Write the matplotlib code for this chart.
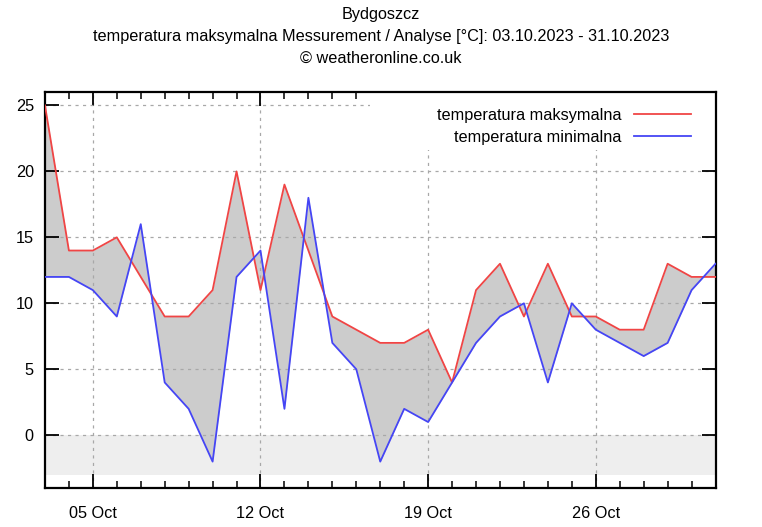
import numpy as np
import pandas as pd
import matplotlib
matplotlib.use('Agg')
import matplotlib.pyplot as plt
import matplotlib.dates as mdates
from matplotlib.patches import Rectangle

plt.rcParams['font.family'] = ['Liberation Sans', 'DejaVu Sans']

# dane (03.10.2023 - 31.10.2023)
dates = pd.date_range('2023-10-03', '2023-10-31', freq='D')
t_max = [25, 14, 14, 15, 12, 9, 9, 11, 20, 11, 19, 14, 9, 8, 7, 7, 8, 4,
         11, 13, 9, 13, 9, 9, 8, 8, 13, 12, 12]
t_min = [12, 12, 11, 9, 16, 4, 2, -2, 12, 14, 2, 18, 7, 5, -2, 2, 1, 4,
         7, 9, 10, 4, 10, 8, 7, 6, 7, 11, 13]
week_ticks = ['2023-10-05', '2023-10-12', '2023-10-19', '2023-10-26']
y_ticks = [0, 5, 10, 15, 20, 25]

fs = 11.7
fig = plt.figure(figsize=(7.62, 5.27), dpi=100)
ax = fig.add_axes([0.059, 0.074, 0.880, 0.751])

# szare pasmo ponizej zera
ax.axhspan(-3, 0, color='#eeeeee', zorder=0, lw=0)
ax.fill_between(dates, t_max, t_min, color='#cccccc', lw=0, zorder=1)
ax.plot(dates, t_max, color='#f04545', lw=1.3, label='temperatura maksymalna', zorder=3)
ax.plot(dates, t_min, color='#4545f5', lw=1.3, label='temperatura minimalna', zorder=3)

ax.set_xlim(dates[0], dates[-1])
ax.set_ylim(-4, 26)
ax.set_yticks(y_ticks)
ax.set_xticks(pd.to_datetime(week_ticks))
ax.xaxis.set_major_formatter(mdates.DateFormatter('%d %b'))
ax.xaxis.set_minor_locator(mdates.DayLocator())

ax.grid(True, which='major', color='#a8a8a8', ls=(0, (2.5, 3.5)), lw=0.9, zorder=0.5)
ax.tick_params(which='major', direction='in', length=10, width=1.3,
               top=True, right=True, labelsize=fs, pad=8)
ax.tick_params(axis='x', which='major', pad=13)
ax.tick_params(which='minor', direction='in', length=5, width=1.1, top=True)
ax.tick_params(axis='y', which='major', pad=8)
for sp in ax.spines.values():
    sp.set_linewidth(1.6)

# biale tlo legendy zaslania siatke
ax.add_patch(Rectangle((0.485, 0.854), 0.515, 0.146, transform=ax.transAxes,
                       facecolor='white', edgecolor='none', zorder=2))
leg = ax.legend(loc='upper right', bbox_to_anchor=(0.986, 1.0), markerfirst=False,
                frameon=False, fontsize=fs, handlelength=3.5, handletextpad=0.75,
                borderpad=0.95, labelspacing=0.45, borderaxespad=0)
for txt in leg.get_texts():
    txt.set_ha('right')

fig.text(0.5, 0.973, 'Bydgoszcz', ha='center', va='center', fontsize=fs)
fig.text(0.5, 0.931, 'temperatura maksymalna Messurement / Analyse [°C]: 03.10.2023 - 31.10.2023',
         ha='center', va='center', fontsize=fs)
fig.text(0.5, 0.889, '© weatheronline.co.uk', ha='center', va='center', fontsize=fs)

fig.savefig('out.png', dpi=100)
